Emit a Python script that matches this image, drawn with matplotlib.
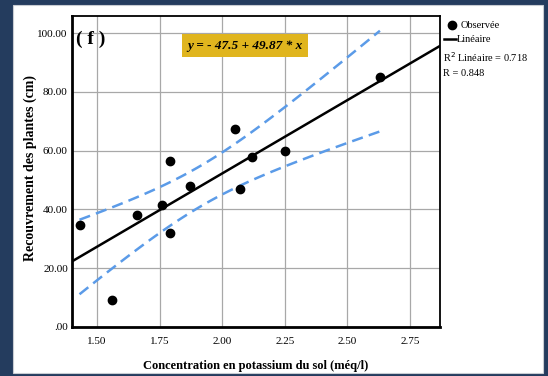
import numpy as np
import matplotlib.pyplot as plt
from matplotlib.lines import Line2D
from matplotlib.patches import Rectangle

plt.rcParams['font.family'] = ['Liberation Serif', 'DejaVu Serif']

# valeurs
potassium = [1.43, 1.56, 1.66, 1.76, 1.79, 1.79, 1.87, 2.05, 2.07, 2.12, 2.25, 2.63]
recouvrement = [34.7, 9.2, 38.0, 41.5, 56.5, 32.0, 48.0, 67.5, 47.0, 58.0, 60.0, 85.0]
intercept = -47.5
slope = 49.87
xticks = [1.50, 1.75, 2.00, 2.25, 2.50, 2.75]
yticks = [0, 20, 40, 60, 80, 100]
ytick_labels = ['.00', '20.00', '40.00', '60.00', '80.00', '100.00']

x = np.array(potassium)
y = np.array(recouvrement)

# intervalle de confiance 95% de la moyenne
n = len(x)
t_val = 2.228  # t(0.975, ddl=10)
resid = y - (intercept + slope * x)
s = np.sqrt(np.sum(resid ** 2) / (n - 2))
xs = np.linspace(x.min(), x.max(), 100)
se = s * np.sqrt(1 / n + (xs - x.mean()) ** 2 / np.sum((x - x.mean()) ** 2))
fit = intercept + slope * xs

fig = plt.figure(figsize=(5.48, 3.76), dpi=100)
fig.patch.set_facecolor('white')
# cadre bleu foncé
fig.add_artist(Rectangle((0, 0), 1, 1, transform=fig.transFigure, facecolor='#243c5e', edgecolor='none', zorder=-10))
fig.add_artist(Rectangle((13 / 548, 3 / 376), 530 / 548, 368 / 376, transform=fig.transFigure,
                         facecolor='white', edgecolor='#c8ccd2', lw=0.8, zorder=-9))

ax = fig.add_axes([72 / 548, 1 - 327 / 376, 368 / 548, 311 / 376])
ax.set_facecolor('none')
ax.set_xlim(1.40, 2.87)
ax.set_ylim(0, 105.8)

xl = np.array([1.40, 2.87])
ax.plot(xl, intercept + slope * xl, color='black', lw=1.8, zorder=3)
ax.plot(xs, fit + t_val * se, color='#5b9be8', lw=1.8, ls=(0, (4.5, 2.5)), zorder=2)
ax.plot(xs, fit - t_val * se, color='#5b9be8', lw=1.8, ls=(0, (4.5, 2.5)), zorder=2)
ax.scatter(x, y, s=36, color='black', zorder=4)

ax.set_xticks(xticks)
ax.set_xticklabels(['%.2f' % v for v in xticks])
ax.set_yticks(yticks)
ax.set_yticklabels(ytick_labels)
ax.tick_params(labelsize=8, length=0)
ax.tick_params(axis='x', pad=7)
ax.tick_params(axis='y', pad=3)
ax.grid(True, color='#a8a8a8', lw=0.9)
ax.set_axisbelow(True)
for side in ['top', 'right']:
    ax.spines[side].set_linewidth(1.3)
for side in ['left', 'bottom']:
    ax.spines[side].set_linewidth(2.0)

ax.set_xlabel('Concentration en potassium du sol (méq/l)', fontsize=9, fontweight='bold')
ax.xaxis.set_label_coords(0.5, -0.105)
ax.set_ylabel('Recouvrement des plantes (cm)', fontsize=10, fontweight='bold')
ax.yaxis.set_label_coords(-0.095, 0.511)

ax.text(0.012, 0.925, '( f )', transform=ax.transAxes, fontsize=14, fontweight='bold', va='center', ha='left')
ax.text(0.471, 0.905, 'y = - 47.5 + 49.87 * x', transform=ax.transAxes, fontsize=9.5,
        fontweight='bold', style='italic', ha='center', va='center',
        bbox=dict(boxstyle='square,pad=0.4', facecolor='#e0b51e', edgecolor='none'))

# légende à droite
fig.add_artist(Line2D([452 / 548], [1 - 25 / 376], marker='o', markersize=6, color='black',
                      transform=fig.transFigure))
fig.text(461 / 548, 1 - 25 / 376, 'Observée', fontsize=7.5, va='center')
fig.add_artist(Line2D([444 / 548, 456 / 548], [1 - 39 / 376] * 2, lw=1.8, color='black',
                      transform=fig.transFigure))
fig.text(457 / 548, 1 - 39 / 376, 'Linéaire', fontsize=7.5, va='center')
fig.text(443 / 548, 1 - 57 / 376, 'R$^2$ Linéaire = 0.718', fontsize=7.5, va='center')
fig.text(443 / 548, 1 - 73 / 376, 'R = 0.848', fontsize=7.5, va='center')

fig.savefig('out.png', dpi=100)
